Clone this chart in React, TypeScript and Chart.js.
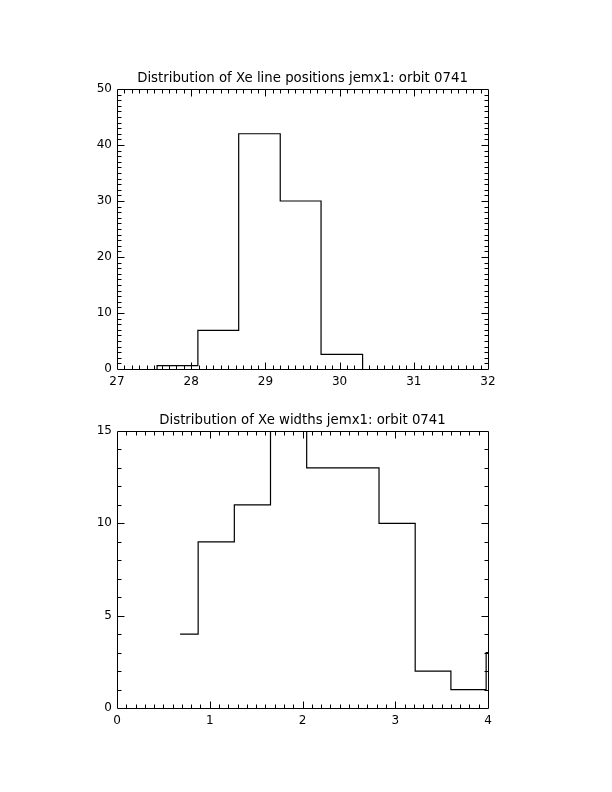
import React, { useEffect, useRef } from "react";
import { Chart, registerables } from "chart.js";

Chart.register(...registerables);

// ---- Data: top histogram (Xe line positions) ----
const posTitle = "Distribution of Xe line positions jemx1: orbit 0741";
const posEdges = [27.54, 28.09, 28.64, 29.2, 29.75, 30.31];
const posCounts = [0.6, 6.9, 42, 30, 2.6];
const posXTicks = [27, 28, 29, 30, 31, 32];
const posYTicks = [0, 10, 20, 30, 40, 50];

// ---- Data: bottom histogram (Xe widths) ----
const widTitle = "Distribution of Xe widths jemx1: orbit 0741";
const widEdges = [0.68, 0.875, 1.265, 1.655, 2.045, 2.435, 2.825, 3.215, 3.6, 3.98, 4.37];
const widCounts = [4, 9, 11, 18, 13, 13, 10, 2, 1, 3];
const widXTicks = [0, 1, 2, 3, 4];
const widYTicks = [0, 5, 10, 15];

const FONT = "'DejaVu Sans', 'Liberation Sans', sans-serif";

function stepPoints(edges: number[], counts: number[], closeLeft: boolean, closeRight: boolean) {
  const pts: { x: number; y: number }[] = [];
  if (closeLeft) pts.push({ x: edges[0], y: 0 });
  counts.forEach((c, i) => {
    pts.push({ x: edges[i], y: c });
    pts.push({ x: edges[i + 1], y: c });
  });
  if (closeRight) pts.push({ x: edges[edges.length - 1], y: 0 });
  return pts;
}

const framePlugin = {
  id: "idlFrame",
  afterDatasetsDraw(chart: any, _args: any, opts: any) {
    const { ctx, chartArea } = chart;
    const { left, right, top, bottom } = chartArea;
    const xs = chart.scales.x;
    const ys = chart.scales.y;
    const L = Math.round(left) + 0.5;
    const R = Math.round(right) + 0.5;
    const T = Math.round(top) + 0.5;
    const B = Math.round(bottom) + 0.5;
    ctx.save();
    ctx.strokeStyle = "#000";
    ctx.lineWidth = 1;
    ctx.beginPath();
    ctx.rect(L, T, R - L, B - T);
    ctx.stroke();
    ctx.beginPath();
    const drawX = (step: number, len: number) => {
      const n = Math.round((xs.max - xs.min) / step);
      for (let i = 1; i < n; i++) {
        const px = Math.round(xs.getPixelForValue(xs.min + i * step)) + 0.5;
        ctx.moveTo(px, B);
        ctx.lineTo(px, B - len);
        ctx.moveTo(px, T);
        ctx.lineTo(px, T + len);
      }
    };
    const drawY = (step: number, len: number) => {
      const n = Math.round((ys.max - ys.min) / step);
      for (let i = 1; i < n; i++) {
        const py = Math.round(ys.getPixelForValue(ys.min + i * step)) + 0.5;
        ctx.moveTo(L, py);
        ctx.lineTo(L + len, py);
        ctx.moveTo(R, py);
        ctx.lineTo(R - len, py);
      }
    };
    drawX(opts.xMinor, 4);
    drawX(opts.xMajor, 7);
    drawY(opts.yMinor, 4);
    drawY(opts.yMajor, 7);
    ctx.stroke();
    ctx.restore();
  },
};

type HistProps = {
  title: string;
  edges: number[];
  counts: number[];
  xTicks: number[];
  yTicks: number[];
  xMinor: number;
  yMinor: number;
  closeLeft: boolean;
  closeRight: boolean;
  padTop: number;
  padBottom: number;
};

function Histogram(p: HistProps) {
  const ref = useRef<HTMLCanvasElement | null>(null);
  useEffect(() => {
    if (!ref.current) return;
    const xMin = p.xTicks[0];
    const xMax = p.xTicks[p.xTicks.length - 1];
    const yMin = p.yTicks[0];
    const yMax = p.yTicks[p.yTicks.length - 1];
    const chart = new Chart(ref.current, {
      type: "line",
      data: {
        datasets: [
          {
            data: stepPoints(p.edges, p.counts, p.closeLeft, p.closeRight),
            borderColor: "#000",
            borderWidth: 1.2,
            pointRadius: 0,
            fill: false,
            tension: 0,
          },
        ],
      },
      plugins: [framePlugin],
      options: {
        responsive: false,
        animation: false,
        events: [],
        layout: { padding: { left: 77, right: 124, top: p.padTop, bottom: p.padBottom } },
        plugins: {
          legend: { display: false },
          tooltip: { enabled: false },
          title: {
            display: true,
            text: p.title,
            color: "#000",
            fullSize: false,
            font: { family: FONT, size: 13.3, weight: "normal", lineHeight: 1.2 },
            padding: { top: 1.5, bottom: 2.1 },
          },
          idlFrame: {
            xMajor: p.xTicks[1] - p.xTicks[0],
            yMajor: p.yTicks[1] - p.yTicks[0],
            xMinor: p.xMinor,
            yMinor: p.yMinor,
          },
        } as any,
        scales: {
          x: {
            type: "linear",
            min: xMin,
            max: xMax,
            afterBuildTicks: (s: any) => {
              s.ticks = p.xTicks.map((v) => ({ value: v }));
            },
            afterFit: (s: any) => {
              s.height = 27;
            },
            grid: { display: false, drawTicks: false },
            border: { display: false },
            ticks: {
              color: "#000",
              padding: 6,
              maxRotation: 0,
              font: { family: FONT, size: 12 },
              callback: (v: any) => String(v),
            },
          },
          y: {
            type: "linear",
            min: yMin,
            max: yMax,
            afterBuildTicks: (s: any) => {
              s.ticks = p.yTicks.map((v) => ({ value: v }));
            },
            afterFit: (s: any) => {
              s.width = 40;
            },
            grid: { display: false, drawTicks: false },
            border: { display: false },
            ticks: {
              color: "#000",
              padding: 5,
              font: { family: FONT, size: 12 },
              callback: (v: any) => String(v),
            },
          },
        },
      },
    });
    return () => chart.destroy();
  }, []);
  return <canvas ref={ref} width={612} height={396} style={{ display: "block", width: 612, height: 396 }} />;
}

export default function App() {
  return (
    <div style={{ position: "absolute", left: 0, top: 0, width: 612, height: 792, background: "#fff" }}>
      <Histogram
        title={posTitle}
        edges={posEdges}
        counts={posCounts}
        xTicks={posXTicks}
        yTicks={posYTicks}
        xMinor={0.1}
        yMinor={1}
        closeLeft={true}
        closeRight={true}
        padTop={69.4}
        padBottom={0}
      />
      <Histogram
        title={widTitle}
        edges={widEdges}
        counts={widCounts}
        xTicks={widXTicks}
        yTicks={widYTicks}
        xMinor={0.1}
        yMinor={1}
        closeLeft={false}
        closeRight={false}
        padTop={15.4}
        padBottom={57}
      />
    </div>
  );
}
